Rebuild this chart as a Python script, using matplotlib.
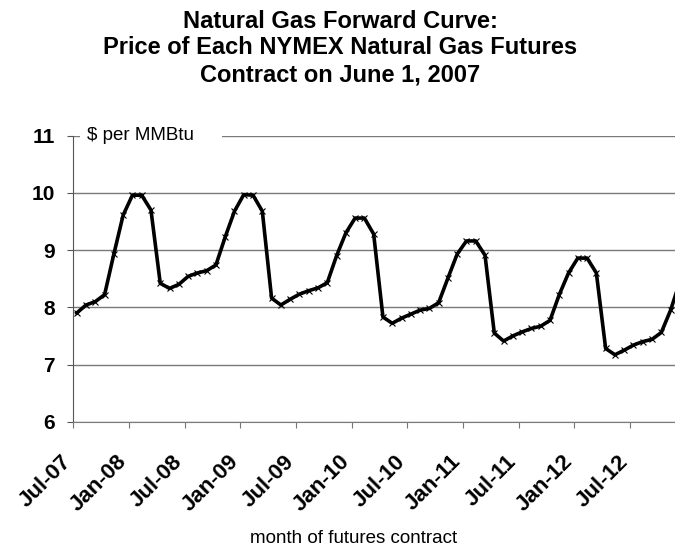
import matplotlib
matplotlib.use("Agg")
import matplotlib.pyplot as plt
import matplotlib.transforms as mtransforms
import numpy as np

plt.rcParams['font.family'] = ['Liberation Sans', 'DejaVu Sans']

# NYMEX natural gas futures settle, one value per contract month Jul-07 .. Dec-12
months = [f"{m}-{y:02d}" for y in range(7, 13)
          for m in ["Jan", "Feb", "Mar", "Apr", "May", "Jun",
                    "Jul", "Aug", "Sep", "Oct", "Nov", "Dec"]][6:]
prices = [7.90, 8.04, 8.10, 8.22, 8.93, 9.61,
          9.96, 9.96, 9.70, 8.42, 8.33, 8.40, 8.54, 8.60, 8.64, 8.74, 9.23, 9.68,
          9.97, 9.96, 9.68, 8.16, 8.04, 8.14, 8.23, 8.29, 8.34, 8.43, 8.90, 9.30,
          9.56, 9.56, 9.28, 7.83, 7.72, 7.81, 7.88, 7.95, 7.98, 8.08, 8.51, 8.93,
          9.16, 9.16, 8.91, 7.55, 7.41, 7.50, 7.57, 7.63, 7.67, 7.77, 8.22, 8.60,
          8.86, 8.86, 8.60, 7.28, 7.17, 7.25, 7.34, 7.40, 7.44, 7.56, 7.95, 8.45]
tick_labels = ["Jul-07", "Jan-08", "Jul-08", "Jan-09", "Jul-09", "Jan-10",
               "Jul-10", "Jan-11", "Jul-11", "Jan-12", "Jul-12"]
y_ticks = [6, 7, 8, 9, 10, 11]

W, H = 675, 548
fig = plt.figure(figsize=(W / 100, H / 100), dpi=100)
# axes runs a little past the right edge, like the cropped original
ax = fig.add_axes([73.3 / W, 1 - 421.7 / H, (686 - 73.3) / W, (421.7 - 135.7) / H])

x = np.arange(len(prices))
ax.plot(x, prices, color='black', lw=2.6, marker='x', ms=4, mew=0.8,
        zorder=3, clip_on=False)

ax.set_xlim(-0.37, 65.66)
ax.set_ylim(6, 11)
ax.set_yticks(y_ticks)
ax.set_yticklabels([str(v) for v in y_ticks], fontsize=15, fontweight='bold')
ax.set_xticks(np.arange(len(tick_labels)) * 6 - 0.37)
ax.set_xticklabels(tick_labels, fontsize=16, fontweight='bold', rotation=45,
                   ha='right', va='center', rotation_mode='anchor')

ax.tick_params(axis='y', direction='out', length=4.5, width=0.8,
               color='#555555', pad=9)
ax.tick_params(axis='x', direction='out', length=4.5, width=0.8,
               color='#777777', pad=22)

# nudge the slanted month labels a bit to the left
shift = mtransforms.ScaledTranslation(-5 / 100, 0, fig.dpi_scale_trans)
for lab in ax.get_xticklabels():
    lab.set_transform(lab.get_transform() + shift)

ax.grid(axis='y', color='#7a7a7a', lw=1.0)
ax.set_axisbelow(True)
for s in ['top', 'right']:
    ax.spines[s].set_visible(False)
ax.spines['left'].set_color('#555555')
ax.spines['bottom'].set_color('#7a7a7a')

ax.text(87 / W, 1 - 136 / H, "$ per MMBtu    ", transform=fig.transFigure,
        fontsize=13.5, va='center', ha='left', zorder=4,
        bbox=dict(facecolor='white', edgecolor='none', pad=5))

fig.text(340 / W, 1 - 48 / H,
         "Natural Gas Forward Curve:\nPrice of Each NYMEX Natural Gas Futures\n"
         "Contract on June 1, 2007",
         ha='center', va='center', fontsize=17, fontweight='bold', linespacing=1.2)

fig.text(354 / W, 1 - 543 / H, "month of futures contract",
         ha='center', va='baseline', fontsize=13.5)

fig.savefig("out.png", dpi=100)
